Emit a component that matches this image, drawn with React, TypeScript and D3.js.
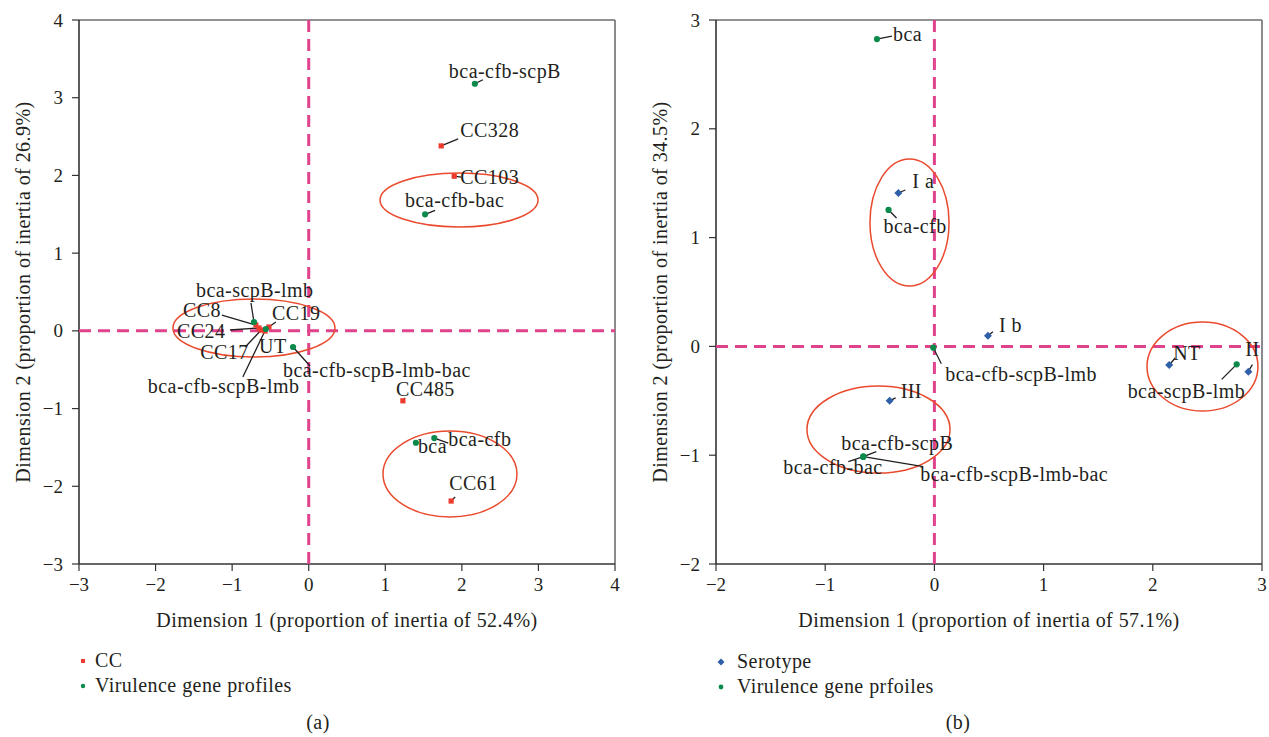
import React from "react";
import * as d3 from "d3";

// ---------- DATA ----------
// Panel (a)
const ccNames = ["CC328", "CC103", "CC485", "CC61", "CC8", "CC24", "CC17", "CC19", "UT"];
const ccX = [1.73, 1.9, 1.23, 1.86, -0.69, -0.65, -0.62, -0.52, -0.57];
const ccY = [2.38, 1.99, -0.9, -2.19, 0.075, 0.037, 0.011, 0.049, -0.002];

const vgaNames = ["bca-cfb-scpB", "bca-cfb-bac", "bca", "bca-cfb", "bca-scpB-lmb", "bca-cfb-scpB-lmb", "bca-cfb-scpB-lmb-bac"];
const vgaX = [2.17, 1.52, 1.4, 1.64, -0.715, -0.56, -0.205];
const vgaY = [3.18, 1.5, -1.44, -1.38, 0.114, 0.024, -0.208];

const ellA = [
  { cx: 1.963, cy: 1.684, rx: 1.032, ry: 0.347 },
  { cx: -0.715, cy: 0.037, rx: 1.058, ry: 0.373 },
  { cx: 1.845, cy: -1.842, rx: 0.875, ry: 0.553 },
];

// Panel (b)
const seroNames = ["I a", "I b", "III", "NT", "II"];
const seroX = [-0.33, 0.49, -0.41, 2.15, 2.875];
const seroY = [1.41, 0.098, -0.5, -0.171, -0.232];

const vgbNames = ["bca", "bca-cfb", "bca-cfb-scpB-lmb", "bca-cfb-scpB", "bca-cfb-bac", "bca-cfb-scpB-lmb-bac", "bca-scpB-lmb"];
const vgbX = [-0.526, -0.42, -0.01, -0.651, -0.651, -0.651, 2.768];
const vgbY = [2.825, 1.254, -0.012, -1.014, -1.014, -1.014, -0.165];

const ellB = [
  { cx: -0.228, cy: 1.139, rx: 0.362, ry: 0.584 },
  { cx: -0.512, cy: -0.764, rx: 0.655, ry: 0.4 },
  { cx: 2.455, cy: -0.185, rx: 0.508, ry: 0.409 },
];

// Label layout (pixel offsets from the point: text start/baseline, leader end)
type Off = { tx: number; ty: number; lx?: number; ly?: number };
const offA: Record<string, Off> = {
  CC328: { tx: 19, ty: -9, lx: 17, ly: -7 },
  CC103: { tx: 6, ty: 8, lx: 7, ly: 1 },
  CC485: { tx: -7, ty: -5, lx: 2, ly: -3 },
  CC61: { tx: -2, ty: -11, lx: 4, ly: -4 },
  CC8: { tx: -73, ty: -8, lx: -34, ly: -10 },
  CC24: { tx: -82, ty: 10, lx: -29, ly: 2 },
  CC17: { tx: -61, ty: 29, lx: -16, ly: 17 },
  CC19: { tx: 3, ty: -7, lx: 7, ly: -5 },
  UT: { tx: -6, ty: 22 },
  "bca-cfb-scpB": { tx: -26, ty: -6, lx: 8, ly: -4 },
  "bca-cfb-bac": { tx: -20, ty: -7, lx: 10, ly: -4 },
  bca: { tx: 2, ty: 10 },
  "bca-cfb": { tx: 14, ty: 8, lx: 14, ly: 5 },
  "bca-scpB-lmb": { tx: -58, ty: -25, lx: -3, ly: -19 },
  "bca-cfb-scpB-lmb": { tx: -118, ty: 64, lx: -23, ly: 48 },
  "bca-cfb-scpB-lmb-bac": { tx: -10, ty: 30, lx: 17, ly: 19 },
};
const offB: Record<string, Off> = {
  "I a": { tx: 14, ty: -5, lx: 7, ly: -3 },
  "I b": { tx: 11, ty: -4, lx: 5, ly: -4 },
  III: { tx: 11, ty: -3, lx: 6, ly: -3 },
  NT: { tx: 4, ty: -5, lx: 6, ly: -7 },
  II: { tx: -3, ty: -16, lx: 4, ly: -7 },
  bca: { tx: 16, ty: 2, lx: 15, ly: -3 },
  "bca-cfb": { tx: -5, ty: 23, lx: 8, ly: 8 },
  "bca-cfb-scpB-lmb": { tx: 12, ty: 33, lx: 8, ly: 16 },
  "bca-cfb-scpB": { tx: -22, ty: -7, lx: 13, ly: -5 },
  "bca-cfb-bac": { tx: -80, ty: 17, lx: -15, ly: 5 },
  "bca-cfb-scpB-lmb-bac": { tx: 57, ty: 24, lx: 60, ly: 10 },
  "bca-scpB-lmb": { tx: -109, ty: 34, lx: -15, ly: 15 },
};

// ---------- STYLE ----------
const FONT = "'Liberation Serif', 'DejaVu Serif', serif";
const TXT = "#231f20";
const RED = "#ec3a2d";
const GREEN = "#0b8a4c";
const BLUE = "#2f5fa8";
const PINK = "#e0438c";
const ELL = "#ea4a2e";
const FS = 20;
const LS = 0.45;
const fmt = d3.format("d");

type PanelProps = {
  xDom: [number, number];
  yDom: [number, number];
  x0: number; x1: number; y0: number; y1: number;
  xTitle: string; yTitle: string;
  ells: { cx: number; cy: number; rx: number; ry: number }[];
  children: (x: d3.ScaleLinear<number, number>, y: d3.ScaleLinear<number, number>) => React.ReactNode;
};

function Panel({ xDom, yDom, x0, x1, y0, y1, xTitle, yTitle, ells, children }: PanelProps) {
  const x = d3.scaleLinear().domain(xDom).range([x0, x1]);
  const y = d3.scaleLinear().domain(yDom).range([y1, y0]);
  const xt = x.ticks(xDom[1] - xDom[0]);
  const yt = y.ticks(yDom[1] - yDom[0]);
  const cx = (x0 + x1) / 2;
  const cy = (y0 + y1) / 2;
  return (
    <g>
      {/* frame */}
      <line x1={x0} x2={x1} y1={y0} y2={y0} stroke="#6d6e71" strokeWidth={1.6} />
      <line x1={x1} x2={x1} y1={y0} y2={y1} stroke="#6d6e71" strokeWidth={1.6} />
      <line x1={x0} x2={x0} y1={y0} y2={y1} stroke="#333" strokeWidth={1.6} />
      <line x1={x0} x2={x1} y1={y1} y2={y1} stroke="#333" strokeWidth={1.6} />
      {/* ticks */}
      {xt.map((t) => (
        <g key={"x" + t}>
          <line x1={x(t)} x2={x(t)} y1={y1} y2={y1 + 7} stroke="#333" strokeWidth={1.2} />
          <text x={x(t)} y={y1 + 27} textAnchor="middle" fontSize={19} fill={TXT}>{fmt(t)}</text>
        </g>
      ))}
      {yt.map((t) => (
        <g key={"y" + t}>
          <line x1={x0 - 7} x2={x0} y1={y(t)} y2={y(t)} stroke="#333" strokeWidth={1.2} />
          <text x={x0 - 16} y={y(t) + 6.5} textAnchor="end" fontSize={19} fill={TXT}>{fmt(t)}</text>
        </g>
      ))}
      {/* reference lines */}
      <line x1={x(0)} x2={x(0)} y1={y0} y2={y1} stroke={PINK} strokeWidth={3} strokeDasharray="12 7" />
      <line x1={x0} x2={x1} y1={y(0)} y2={y(0)} stroke={PINK} strokeWidth={3} strokeDasharray="12 7" />
      {/* ellipses */}
      {ells.map((e, i) => (
        <ellipse key={i} cx={x(e.cx)} cy={y(e.cy)} rx={x(e.rx) - x(0)} ry={y(0) - y(e.ry)}
          fill="none" stroke={ELL} strokeWidth={1.5} />
      ))}
      {children(x, y)}
      {/* titles */}
      <text x={cx} y={y1 + 63} textAnchor="middle" fontSize={FS} letterSpacing={LS} fill={TXT}>{xTitle}</text>
      <text transform={`translate(${x0 - 49},${cy}) rotate(-90)`} textAnchor="middle" fontSize={FS}
        letterSpacing={LS} fill={TXT}>{yTitle}</text>
    </g>
  );
}

function Label({ px, py, name, off }: { px: number; py: number; name: string; off?: Off }) {
  if (!off) return null;
  return (
    <g>
      {off.lx !== undefined && (
        <line x1={px} y1={py} x2={px + off.lx} y2={py + (off.ly ?? 0)} stroke="#231f20" strokeWidth={1.3} />
      )}
      <text x={px + off.tx} y={py + off.ty} fontSize={FS} letterSpacing={LS} fill={TXT}>{name}</text>
    </g>
  );
}

const square = (px: number, py: number, c: string, k: string) => (
  <rect key={k} x={px - 2.6} y={py - 2.6} width={5.2} height={5.2} fill={c} />
);
const dot = (px: number, py: number, c: string, k: string) => (
  <circle key={k} cx={px} cy={py} r={3.1} fill={c} />
);
const diamond = (px: number, py: number, c: string, k: string) => (
  <path key={k} d={`M${px},${py - 4}L${px + 4},${py}L${px},${py + 4}L${px - 4},${py}Z`} fill={c} />
);

export default function App() {
  return (
    <svg width={1269} height={737} style={{ position: "absolute", left: 0, top: 0, background: "#fff" }}
      fontFamily={FONT}>
      <rect width={1269} height={737} fill="#fff" />
      <Panel xDom={[-3, 4]} yDom={[-3, 4]} x0={79} x1={615} y0={20} y1={564}
        xTitle="Dimension 1 (proportion of inertia of 52.4%)"
        yTitle="Dimension 2 (proportion of inertia of 26.9%)" ells={ellA}>
        {(x, y) => (
          <g>
            {vgaNames.map((n, i) => (
              <Label key={"vl" + i} px={x(vgaX[i])} py={y(vgaY[i])} name={n} off={offA[n]} />
            ))}
            {ccNames.map((n, i) => (
              <Label key={"cl" + i} px={x(ccX[i])} py={y(ccY[i])} name={n} off={offA[n]} />
            ))}
            {ccNames.map((n, i) => square(x(ccX[i]), y(ccY[i]), RED, "c" + i))}
            {vgaNames.map((n, i) => dot(x(vgaX[i]), y(vgaY[i]), GREEN, "v" + i))}
          </g>
        )}
      </Panel>
      <Panel xDom={[-2, 3]} yDom={[-2, 3]} x0={716} x1={1262} y0={20} y1={564}
        xTitle="Dimension 1 (proportion of inertia of 57.1%)"
        yTitle="Dimension 2 (proportion of inertia of 34.5%)" ells={ellB}>
        {(x, y) => (
          <g>
            {vgbNames.map((n, i) => (
              <Label key={"vl" + i} px={x(vgbX[i])} py={y(vgbY[i])} name={n} off={offB[n]} />
            ))}
            {seroNames.map((n, i) => (
              <Label key={"sl" + i} px={x(seroX[i])} py={y(seroY[i])} name={n} off={offB[n]} />
            ))}
            {seroNames.map((n, i) => diamond(x(seroX[i]), y(seroY[i]), BLUE, "s" + i))}
            {vgbNames.map((n, i) => dot(x(vgbX[i]), y(vgbY[i]), GREEN, "g" + i))}
          </g>
        )}
      </Panel>
      {/* legends */}
      <g fontSize={FS} letterSpacing={LS} fill={TXT}>
        <rect x={81} y={659} width={4} height={4} fill={RED} />
        <text x={95} y={667} fill={TXT}>CC</text>
        <circle cx={83} cy={686} r={2.2} fill={GREEN} />
        <text x={95} y={692} fill={TXT}>Virulence gene profiles</text>
        <path d="M721,658.5L724.5,662L721,665.5L717.5,662Z" fill={BLUE} />
        <text x={737} y={668} fill={TXT}>Serotype</text>
        <circle cx={721} cy={687} r={2.4} fill={GREEN} />
        <text x={737} y={693} fill={TXT}>Virulence gene prfoiles</text>
        <text x={318} y={729} textAnchor="middle" fill={TXT}>(a)</text>
        <text x={958} y={729} textAnchor="middle" fill={TXT}>(b)</text>
      </g>
    </svg>
  );
}
